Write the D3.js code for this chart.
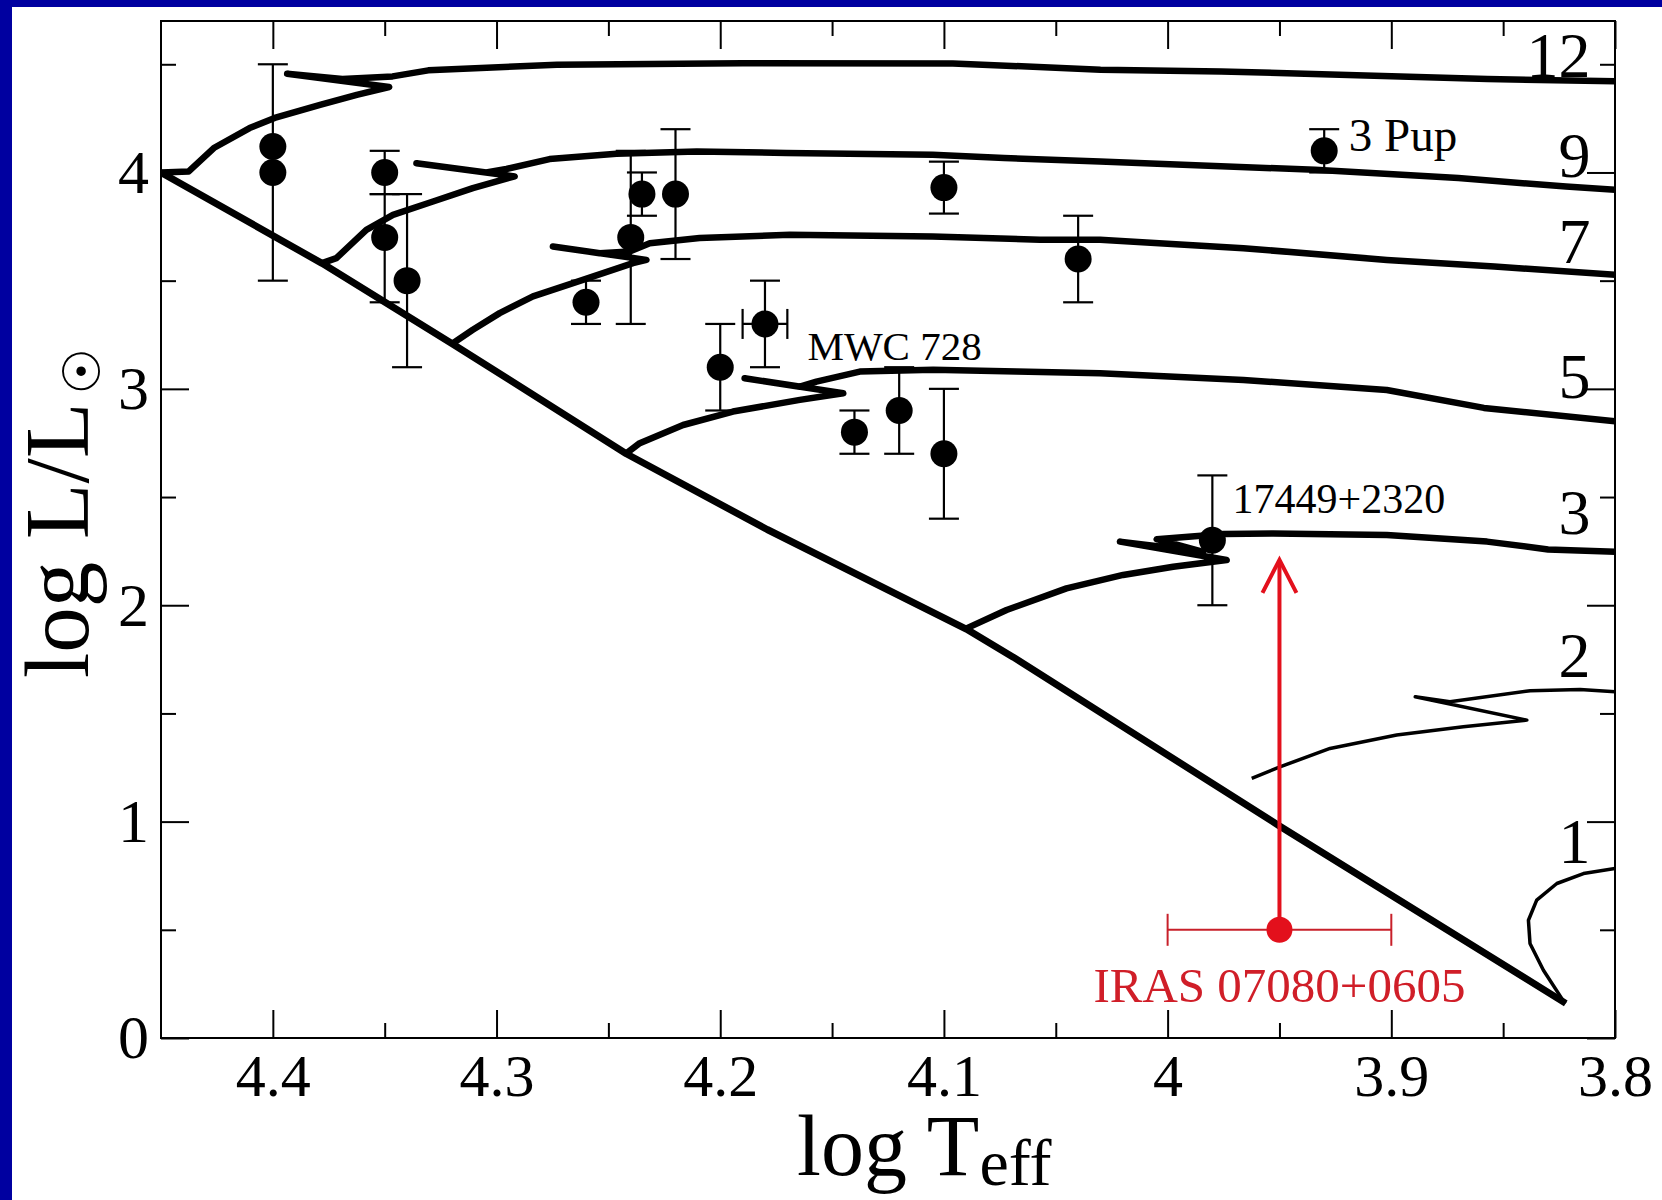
<!DOCTYPE html>
<html>
<head>
<meta charset="utf-8">
<script src="https://cdnjs.cloudflare.com/ajax/libs/d3/7.8.5/d3.min.js"></script>
<style>
    body { margin: 0; background: #0000a0; }
    svg text { font-family: "Liberation Serif", "Times New Roman", serif; fill: #000; }
</style>
</head>
<body>
<div id="hrd"></div>
<script>
// evolutionary tracks, points are [log Teff, log L/Lsun]
var zams = [[4.45, 4.0], [4.378, 3.58], [4.32, 3.21], [4.242, 2.70], [4.179, 2.35], [4.09, 1.89],
    [4.069, 1.76], [3.95, 0.98], [3.822, 0.16]];
var track12 = [[4.45, 4.0], [4.4376, 4.005], [4.4264, 4.113], [4.4104, 4.205], [4.3992, 4.252], [4.3785, 4.313],
    [4.3625, 4.359], [4.348, 4.395], [4.3936, 4.456], [4.3689, 4.432], [4.3465, 4.444], [4.3305, 4.472],
    [4.273, 4.498], [4.19, 4.505], [4.096, 4.504], [4.03, 4.475], [3.976, 4.467], [3.896, 4.444],
    [3.857, 4.432], [3.8, 4.421]];
var track9 = [[4.378, 3.581], [4.3716, 3.604], [4.3582, 3.735], [4.3463, 3.804], [4.3284, 3.866], [4.3106, 3.928],
    [4.2919, 3.982], [4.3358, 4.043], [4.3046, 4.0], [4.2956, 4.016], [4.2763, 4.062], [4.2464, 4.087],
    [4.2105, 4.097], [4.1705, 4.09], [4.105, 4.082], [4.0731, 4.067], [4.0302, 4.051], [3.9341, 4.012],
    [3.87, 3.974], [3.8219, 3.935], [3.8, 3.92]];
var track7 = [[4.3195, 3.211], [4.3106, 3.273], [4.2986, 3.35], [4.2837, 3.427], [4.2614, 3.504], [4.239, 3.581],
    [4.233, 3.596], [4.2748, 3.658], [4.2539, 3.627], [4.2405, 3.635], [4.2315, 3.673], [4.2092, 3.697],
    [4.1689, 3.712], [4.105, 3.704], [4.0571, 3.689], [4.0302, 3.689], [3.9661, 3.65], [3.902, 3.596],
    [3.8539, 3.565], [3.7995, 3.527]];
var track5 = [[4.242, 2.702], [4.236, 2.749], [4.2166, 2.833], [4.1943, 2.895], [4.1644, 2.949], [4.145, 2.98],
    [4.1891, 3.049], [4.1644, 3.01], [4.157, 3.033], [4.1376, 3.08], [4.1048, 3.088], [4.0675, 3.08],
    [4.0302, 3.072], [3.9661, 3.041], [3.902, 2.995], [3.8586, 2.912], [3.8, 2.85]];
var track3 = [[4.0899, 1.893], [4.072, 1.978], [4.0452, 2.078], [4.0199, 2.14], [3.9975, 2.178], [3.9736, 2.209],
    [4.0213, 2.294], [3.9841, 2.247], [4.0049, 2.305], [3.9751, 2.329], [3.9528, 2.332], [3.902, 2.325],
    [3.8572, 2.294], [3.8299, 2.258], [3.7995, 2.247]];
var track2 = [[3.9624, 1.2], [3.9498, 1.253], [3.9274, 1.338], [3.8976, 1.4], [3.8678, 1.438], [3.8394, 1.469],
    [3.8893, 1.577], [3.8738, 1.554], [3.8379, 1.605], [3.8156, 1.611], [3.7992, 1.6]];
var track1 = [[3.8223, 0.159], [3.832, 0.313], [3.838, 0.437], [3.8387, 0.544], [3.835, 0.637], [3.826, 0.714],
    [3.8141, 0.76], [3.8, 0.783]];

var trackMasses = ["12", "9", "7", "5", "3", "2", "1"];
var trackLabelT = 3.811;
var trackLabelL = [4.44, 3.98, 3.58, 2.96, 2.33, 1.67, 0.81];

// observed stars
var starLogT    = [4.40, 4.40, 4.35, 4.35, 4.34, 4.26, 4.24, 4.235, 4.22, 4.20, 4.18, 4.14, 4.12, 4.10, 4.10, 4.04, 3.93, 3.98];
var starLogL    = [4.12, 4.00, 4.00, 3.70, 3.50, 3.40, 3.70, 3.90, 3.90, 3.10, 3.30, 2.80, 2.90, 2.70, 3.93, 3.60, 4.10, 2.30];
var starErrUp   = [0, 0.5, 0.1, 0.2, 0.4, 0.1, 0.4, 0.1, 0.3, 0.2, 0.2, 0.1, 0.2, 0.3, 0.12, 0.2, 0.1, 0.3];
var starErrDown = [0, 0.5, 0.1, 0.3, 0.4, 0.1, 0.4, 0.1, 0.3, 0.2, 0.2, 0.1, 0.2, 0.3, 0.12, 0.2, 0.1, 0.3];
var starErrT    = [0, 0, 0, 0, 0, 0, 0, 0, 0, 0, 0.01, 0, 0, 0, 0, 0, 0, 0];

var starNames = ["3 Pup", "MWC 728", "17449+2320"];
var starNameT = [3.919, 4.161, 3.971];
var starNameL = [4.097, 3.134, 2.425];

// IRAS 07080+0605
var irasName = "IRAS 07080+0605";
var irasLogT = 3.95;
var irasLogL = 0.5;
var irasErrT = 0.05;
var irasArrowTo = 2.21;
var irasNameL = 0.166;

var xTicks = [4.4, 4.3, 4.2, 4.1, 4.0, 3.9, 3.8];
var xMinorTicks = [4.35, 4.25, 4.15, 4.05, 3.95, 3.85];
var yTicks = [0, 1, 2, 3, 4];
var yMinorTicks = [0.5, 1.5, 2.5, 3.5, 4.5];


HRDiagram = function(_parentElement){
    this.parentElement = _parentElement;
    this.tracks = [track12, track9, track7, track5, track3, track2, track1];
    this.margin = { top: 21, right: 47, bottom: 162, left: 161 };
    this.width = 1662 - this.margin.left - this.margin.right;
    this.height = 1200 - this.margin.top - this.margin.bottom;
    this.red = "#e3101c";

    this.initVis();
};

HRDiagram.prototype.initVis = function(){
    this.initSVG();
    this.initScales();
    this.drawTracks();
    this.drawStars();
    this.drawIras();
    this.drawAxes();
};

HRDiagram.prototype.initSVG = function() {
    var root = d3.select("#" + this.parentElement).append("svg")
        .attr("width", 1662)
        .attr("height", 1200);

    // blue slide background with white panel
    root.append("rect").attr("width", 1662).attr("height", 1200).attr("fill", "#0000a0");
    root.append("rect").attr("x", 12).attr("y", 7).attr("width", 1650).attr("height", 1193).attr("fill", "#fff");

    this.root = root;
    this.svg = root.append("g")
        .attr("transform", "translate(" + this.margin.left + "," + this.margin.top + ")");
};

HRDiagram.prototype.initScales = function() {
    this.x = d3.scaleLinear()
        .domain([4.45, 3.8])
        .range([0, this.width]);

    this.y = d3.scaleLinear()
        .domain([0, 4.7])
        .range([this.height, 0]);
};

HRDiagram.prototype.drawTracks = function() {
    var vis = this;
    var line = d3.line()
        .x(function(d) { return vis.x(d[0]); })
        .y(function(d) { return vis.y(d[1]); });

    vis.svg.append("defs").append("clipPath")
        .attr("id", "clip")
        .append("rect")
        .attr("width", vis.width)
        .attr("height", vis.height);

    var g = vis.svg.append("g").attr("clip-path", "url(#clip)");

    g.append("path")
        .attr("class", "zams")
        .attr("d", line(zams))
        .attr("fill", "none")
        .attr("stroke", "#000")
        .attr("stroke-width", 7)
        .attr("stroke-linejoin", "round");

    g.selectAll(".track")
        .data(vis.tracks)
        .enter().append("path")
        .attr("class", "track")
        .attr("d", function(d) { return line(d); })
        .attr("fill", "none")
        .attr("stroke", "#000")
        .attr("stroke-width", function(d, i) { return +trackMasses[i] > 2 ? 6.5 : 3.5; })
        .attr("stroke-linejoin", "round");

    vis.svg.selectAll(".mass-label")
        .data(trackMasses)
        .enter().append("text")
        .attr("class", "mass-label")
        .attr("x", vis.x(trackLabelT))
        .attr("y", function(d, i) { return vis.y(trackLabelL[i]); })
        .attr("text-anchor", "end")
        .style("font-size", "64px")
        .text(function(d) { return d; });
};

HRDiagram.prototype.drawStars = function() {
    var vis = this;
    var idx = d3.range(starLogT.length);
    var cap = 15;

    var bars = vis.svg.append("g")
        .attr("stroke", "#000")
        .attr("stroke-width", 2.2);

    var withL = idx.filter(function(i) { return starErrUp[i] > 0 || starErrDown[i] > 0; });

    bars.selectAll(".ebar")
        .data(withL)
        .enter().append("line")
        .attr("class", "ebar")
        .attr("x1", function(i) { return vis.x(starLogT[i]); })
        .attr("x2", function(i) { return vis.x(starLogT[i]); })
        .attr("y1", function(i) { return vis.y(starLogL[i] + starErrUp[i]); })
        .attr("y2", function(i) { return vis.y(starLogL[i] - starErrDown[i]); });

    bars.selectAll(".ecap-top")
        .data(withL)
        .enter().append("line")
        .attr("class", "ecap-top")
        .attr("x1", function(i) { return vis.x(starLogT[i]) - cap; })
        .attr("x2", function(i) { return vis.x(starLogT[i]) + cap; })
        .attr("y1", function(i) { return vis.y(starLogL[i] + starErrUp[i]); })
        .attr("y2", function(i) { return vis.y(starLogL[i] + starErrUp[i]); });

    bars.selectAll(".ecap-bot")
        .data(withL)
        .enter().append("line")
        .attr("class", "ecap-bot")
        .attr("x1", function(i) { return vis.x(starLogT[i]) - cap; })
        .attr("x2", function(i) { return vis.x(starLogT[i]) + cap; })
        .attr("y1", function(i) { return vis.y(starLogL[i] - starErrDown[i]); })
        .attr("y2", function(i) { return vis.y(starLogL[i] - starErrDown[i]); });

    // horizontal error (only MWC 728)
    var withT = idx.filter(function(i) { return starErrT[i] > 0; });
    withT.forEach(function(i) {
        var xa = vis.x(starLogT[i] + starErrT[i]), xb = vis.x(starLogT[i] - starErrT[i]), yy = vis.y(starLogL[i]);
        bars.append("line").attr("x1", xa).attr("x2", xb).attr("y1", yy).attr("y2", yy);
        bars.append("line").attr("x1", xa).attr("x2", xa).attr("y1", yy - cap).attr("y2", yy + cap);
        bars.append("line").attr("x1", xb).attr("x2", xb).attr("y1", yy - cap).attr("y2", yy + cap);
    });

    vis.svg.selectAll(".star")
        .data(idx)
        .enter().append("circle")
        .attr("class", "star")
        .attr("cx", function(i) { return vis.x(starLogT[i]); })
        .attr("cy", function(i) { return vis.y(starLogL[i]); })
        .attr("r", 13.5)
        .attr("fill", "#000");

    vis.svg.selectAll(".star-name")
        .data(starNames)
        .enter().append("text")
        .attr("class", "star-name")
        .attr("x", function(d, i) { return vis.x(starNameT[i]); })
        .attr("y", function(d, i) { return vis.y(starNameL[i]); })
        .style("font-size", function(d, i) { return i === 0 ? "47px" : (i === 2 ? "42px" : "41px"); })
        .text(function(d) { return d; });
};

HRDiagram.prototype.drawIras = function() {
    var vis = this;
    var cx = vis.x(irasLogT), cy = vis.y(irasLogL);
    var g = vis.svg.append("g").attr("class", "iras");

    // temperature error bar
    var xa = vis.x(irasLogT + irasErrT), xb = vis.x(irasLogT - irasErrT);
    g.append("line").attr("x1", xa).attr("x2", xb).attr("y1", cy).attr("y2", cy)
        .attr("stroke", "#c8202a").attr("stroke-width", 2);
    [xa, xb].forEach(function(xx) {
        g.append("line").attr("x1", xx).attr("x2", xx).attr("y1", cy - 16).attr("y2", cy + 16)
            .attr("stroke", "#c8202a").attr("stroke-width", 2);
    });

    // arrow up to the revised luminosity
    var tip = vis.y(irasArrowTo);
    g.append("line").attr("x1", cx).attr("x2", cx).attr("y1", cy).attr("y2", tip + 1)
        .attr("stroke", vis.red).attr("stroke-width", 4);
    g.append("path")
        .attr("d", "M" + (cx - 17) + "," + (tip + 33) + "L" + cx + "," + tip + "L" + (cx + 17) + "," + (tip + 33))
        .attr("fill", "none").attr("stroke", vis.red).attr("stroke-width", 4);

    g.append("circle").attr("cx", cx).attr("cy", cy).attr("r", 13).attr("fill", vis.red);

    g.append("text")
        .attr("x", cx)
        .attr("y", vis.y(irasNameL))
        .attr("text-anchor", "middle")
        .style("font-size", "49px")
        .style("fill", "#d01e28")
        .text(irasName);
};

HRDiagram.prototype.drawAxes = function() {
    var vis = this;
    var major = 28, minor = 15;

    function style(sel, size) {
        sel.select(".domain").remove();
        sel.selectAll(".tick line").attr("stroke", "#000").attr("stroke-width", 2);
        sel.attr("font-family", null).attr("font-size", null);
        sel.selectAll("text").style("font-size", size + "px");
    }

    vis.svg.append("g")
        .attr("transform", "translate(0," + vis.height + ")")
        .call(d3.axisBottom(vis.x).tickValues(xTicks).tickSize(-major).tickPadding(15)
            .tickFormat(function(d) { return String(d); }))
        .call(style, 60);
    vis.svg.append("g")
        .attr("transform", "translate(0," + vis.height + ")")
        .call(d3.axisBottom(vis.x).tickValues(xMinorTicks).tickSize(-minor).tickFormat(""))
        .call(style, 60);
    vis.svg.append("g")
        .call(d3.axisTop(vis.x).tickValues(xTicks).tickSize(-major).tickFormat(""))
        .call(style, 60);
    vis.svg.append("g")
        .call(d3.axisTop(vis.x).tickValues(xMinorTicks).tickSize(-minor).tickFormat(""))
        .call(style, 60);

    vis.svg.append("g")
        .call(d3.axisLeft(vis.y).tickValues(yTicks).tickSize(-major).tickPadding(12)
            .tickFormat(function(d) { return String(d); }))
        .call(style, 62);
    vis.svg.append("g")
        .call(d3.axisLeft(vis.y).tickValues(yMinorTicks).tickSize(-minor).tickFormat(""))
        .call(style, 62);
    vis.svg.append("g")
        .attr("transform", "translate(" + vis.width + ",0)")
        .call(d3.axisRight(vis.y).tickValues(yTicks).tickSize(-major).tickFormat(""))
        .call(style, 62);
    vis.svg.append("g")
        .attr("transform", "translate(" + vis.width + ",0)")
        .call(d3.axisRight(vis.y).tickValues(yMinorTicks).tickSize(-minor).tickFormat(""))
        .call(style, 62);

    vis.svg.append("rect")
        .attr("width", vis.width)
        .attr("height", vis.height)
        .attr("fill", "none")
        .attr("stroke", "#000")
        .attr("stroke-width", 2);

    // axis titles
    var xt = vis.root.append("text")
        .attr("x", 797)
        .attr("y", 1175)
        .style("font-size", "86px");
    xt.append("tspan").text("log T");
    xt.append("tspan").attr("dy", 10).style("font-size", "66px").text("eff");

    var yt = vis.root.append("text")
        .attr("transform", "translate(88,678) rotate(-90)")
        .style("font-size", "91px");
    yt.append("tspan").text("log L/L");
    yt.append("tspan").attr("dy", 12).attr("dx", 8)
        .style("font-family", "'DejaVu Sans'").style("font-size", "52px").text("\u2609");
};

new HRDiagram("hrd");
</script>
</body>
</html>
